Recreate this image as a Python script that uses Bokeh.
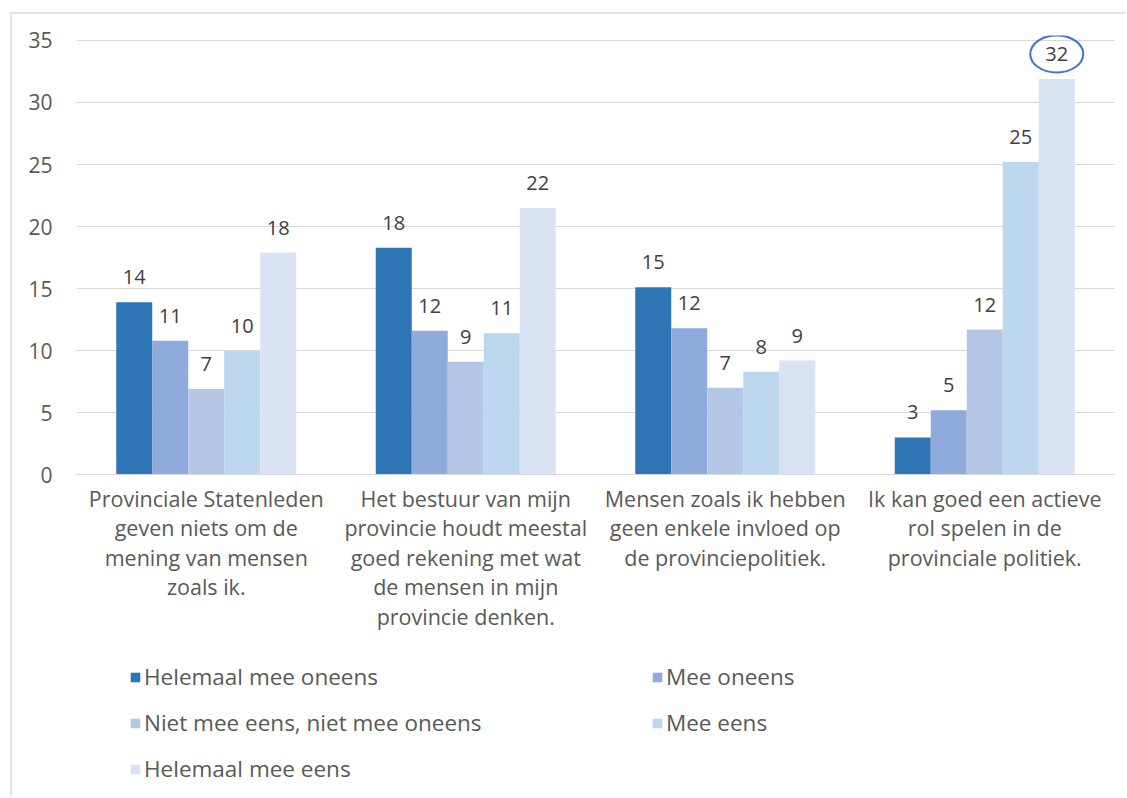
from bokeh.plotting import figure
from bokeh.models import ColumnDataSource, Legend, LegendItem, Range1d, FactorRange
from bokeh.transform import dodge
from bokeh.core.properties import value
from bokeh.embed import file_html
from bokeh.resources import INLINE

categories = [
    "Provinciale Statenleden\ngeven niets om de\nmening van mensen\nzoals ik.",
    "Het bestuur van mijn\nprovincie houdt meestal\ngoed rekening met wat\nde mensen in mijn\nprovincie denken.",
    "Mensen zoals ik hebben\ngeen enkele invloed op\nde provinciepolitiek.",
    "Ik kan goed een actieve\nrol spelen in de\nprovinciale politiek.",
]
series_names = [
    "Helemaal mee oneens",
    "Mee oneens",
    "Niet mee eens, niet mee oneens",
    "Mee eens",
    "Helemaal mee eens",
]
helemaal_mee_oneens = [13.9, 18.3, 15.1, 3.0]
mee_oneens = [10.8, 11.6, 11.8, 5.2]
neutraal = [6.9, 9.1, 7.0, 11.7]
mee_eens = [10.0, 11.4, 8.3, 25.2]
helemaal_mee_eens = [17.9, 21.5, 9.2, 31.9]
series_values = [helemaal_mee_oneens, mee_oneens, neutraal, mee_eens, helemaal_mee_eens]
y_ticks = [0, 5, 10, 15, 20, 25, 30, 35]
highlight_category = 3
highlight_series = 4
legend_order = [0, 2, 4, 1, 3]  # column-major fill -> reads row by row

colors = ["#2E75B6", "#8FAADC", "#B4C7E7", "#BDD7EE", "#DAE3F3"]
FONT = "Open Sans"
PX_PER_UNIT = 12.4
LABEL_GAP = 25

p = figure(
    x_range=FactorRange(*categories, range_padding=0),
    y_range=Range1d(-26.1, 35.4),
    width=1115, height=784,
    min_border_left=64, min_border_right=13, min_border_top=21, min_border_bottom=0,
    output_backend="svg", toolbar_location=None,
    margin=(12, 0, 0, 10),
    styles={"border-top": "2px solid #e3e3e3", "border-left": "2px solid #e3e3e3"},
)
p.outline_line_color = None
p.background_fill_color = "white"

bw = 36 / 259.5
offsets = [-2 * bw, -bw, 0, bw, 2 * bw]

items = []
for i, (name, vals) in enumerate(zip(series_names, series_values)):
    src = ColumnDataSource(dict(cat=categories, val=vals, lab=[str(int(round(v))) for v in vals]))
    r = p.vbar(x=dodge("cat", offsets[i], range=p.x_range), top="val", width=bw,
               source=src, fill_color=colors[i], line_color=None)
    p.text(x=dodge("cat", offsets[i], range=p.x_range), y="val", text="lab", source=src,
           text_align="center", text_baseline="middle", y_offset=-LABEL_GAP,
           text_font=value(FONT), text_font_size="20px", text_color="#404040")
    items.append(LegendItem(label=name, renderers=[r]))

# highlight ellipse around the largest label
hx = categories[highlight_category]
hv = series_values[highlight_series][highlight_category]
esrc = ColumnDataSource(dict(cat=[hx], val=[hv + LABEL_GAP / PX_PER_UNIT]))
p.ellipse(x=dodge("cat", offsets[highlight_series], range=p.x_range), y="val",
          width=53, height=37, width_units="screen", height_units="screen",
          source=esrc, fill_color=None, line_color="#4472C4", line_width=2)

p.xgrid.grid_line_color = None
p.ygrid.grid_line_color = "#d9d9d9"
p.ygrid.grid_line_width = 1
p.yaxis.ticker = y_ticks
p.yaxis.axis_line_color = None
p.yaxis.major_tick_line_color = None
p.yaxis.minor_tick_line_color = None
p.yaxis.major_label_standoff = 18
p.yaxis.major_label_text_font = FONT
p.yaxis.major_label_text_font_size = "21px"
p.yaxis.major_label_text_color = "#595959"

p.xaxis.fixed_location = 0
p.xaxis.axis_line_color = "#d9d9d9"
p.xaxis.major_tick_line_color = None
p.xaxis.minor_tick_line_color = None
p.xaxis.major_label_standoff = 3
p.xaxis.major_label_text_font = FONT
p.xaxis.major_label_text_font_size = "21.5px"
p.xaxis.major_label_text_color = "#595959"
p.xaxis.major_label_text_line_height = 1.02

legend = Legend(items=[items[k] for k in legend_order], location=(53, 14), ncols=2,
                glyph_width=12, glyph_height=12, label_standoff=3,
                label_width=492, label_height=20, spacing=15,
                label_text_font=FONT, label_text_font_size="22.5px",
                label_text_color="#595959", padding=0, margin=0,
                border_line_color=None, background_fill_alpha=0)
p.add_layout(legend, "center")

open("out.html", "w").write(file_html(p, INLINE))
